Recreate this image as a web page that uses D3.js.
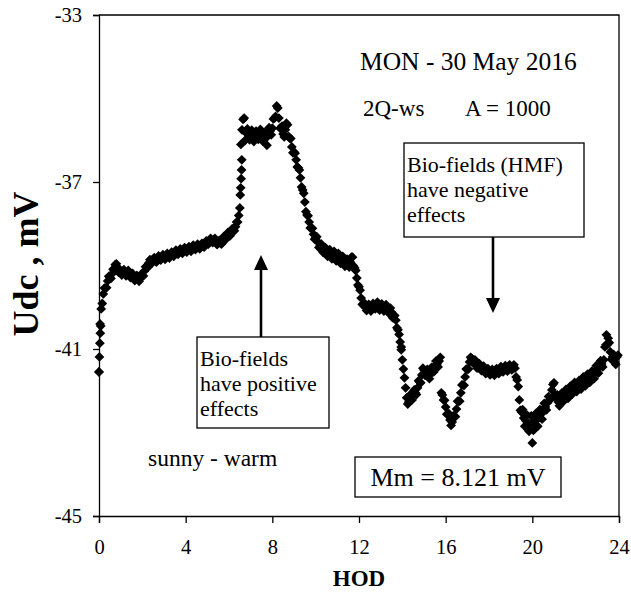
<!DOCTYPE html>
<meta charset="utf-8">
<style>
body { margin: 0; background: #fff; }
text { font-family: "Liberation Serif", "Times New Roman", serif; fill: #000; }
</style>
<svg width="631" height="596"></svg>
<script src="https://cdn.jsdelivr.net/npm/d3@7"></script>
<script>

// Udc readings (mV), one every 0.1 h from HOD 0.0 to 23.9 (middle of the band)
var hodStart = 0, hodStep = 0.1;
var udc = [
  -41.55, -40.04, -39.68, -39.54, -39.37, -39.28, -39.20, -39.11, -38.96, -39.16,
  -39.16, -39.16, -39.18, -39.18, -39.20, -39.23, -39.28, -39.30, -39.32, -39.30,
  -39.25, -39.13, -39.04, -38.94, -38.89, -38.87, -38.87, -38.84, -38.82, -38.80,
  -38.80, -38.77, -38.77, -38.75, -38.73, -38.70, -38.68, -38.66, -38.66, -38.63,
  -38.63, -38.61, -38.61, -38.58, -38.56, -38.56, -38.54, -38.54, -38.51, -38.49,
  -38.44, -38.42, -38.39, -38.39, -38.42, -38.46, -38.46, -38.39, -38.34, -38.29,
  -38.25, -38.20, -38.15, -38.07, -37.96, -37.62, -35.75, -35.47, -35.83, -35.87,
  -35.87, -35.90, -35.92, -35.87, -35.85, -35.87, -35.92, -35.95, -35.85, -35.78,
  -35.71, -35.47, -35.18, -35.47, -35.71, -35.85, -35.75, -35.63, -35.95, -36.16,
  -36.28, -36.47, -36.66, -36.90, -37.19, -37.48, -37.79, -37.96, -38.10, -38.25,
  -38.34, -38.44, -38.53, -38.58, -38.63, -38.66, -38.70, -38.73, -38.75, -38.77,
  -38.80, -38.82, -38.87, -38.89, -38.94, -38.96, -38.92, -38.80, -39.06, -39.30,
  -39.51, -39.78, -39.95, -40.00, -40.00, -40.02, -40.00, -39.97, -39.95, -39.97,
  -40.00, -40.00, -40.02, -40.02, -40.07, -40.12, -40.21, -40.31, -40.54, -40.83,
  -41.26, -41.69, -42.17, -42.27, -42.17, -42.10, -42.05, -41.93, -41.79, -41.62,
  -41.50, -41.55, -41.62, -41.60, -41.48, -41.41, -41.36, -41.29, -42.05, -42.22,
  -42.39, -42.56, -42.70, -42.75, -42.60, -42.44, -42.25, -42.05, -41.86, -41.67,
  -41.48, -41.31, -41.22, -41.29, -41.36, -41.41, -41.43, -41.46, -41.50, -41.53,
  -41.55, -41.55, -41.57, -41.55, -41.53, -41.50, -41.48, -41.48, -41.46, -41.46,
  -41.43, -41.43, -41.46, -41.74, -42.22, -42.51, -42.65, -42.72, -42.77, -42.80,
  -42.77, -42.75, -42.70, -42.63, -42.56, -42.49, -42.39, -42.29, -42.22, -41.98,
  -41.81, -42.17, -42.27, -42.20, -42.15, -42.10, -42.08, -42.03, -41.98, -41.93,
  -41.91, -41.89, -41.86, -41.81, -41.77, -41.74, -41.69, -41.67, -41.62, -41.55,
  -41.48, -41.43, -41.36, -41.26, -40.90, -40.74, -41.07, -41.19, -41.31, -41.19
];

// readings half a step later (HOD 0.05 ... 23.95), taken alternately on the upper / lower edge of the noisy band
var udcHalf = [
  -40.40, -39.91, -39.54, -39.53, -39.26, -39.31, -39.09, -38.98, -39.13, -39.09,
  -39.23, -39.10, -39.25, -39.12, -39.29, -39.19, -39.36, -39.24, -39.38, -39.21,
  -39.25, -39.03, -39.05, -38.86, -38.94, -38.81, -38.92, -38.77, -38.87, -38.74,
  -38.85, -38.71, -38.82, -38.68, -38.78, -38.63, -38.73, -38.60, -38.71, -38.57,
  -38.68, -38.55, -38.66, -38.51, -38.62, -38.49, -38.60, -38.47, -38.56, -38.41,
  -38.49, -38.35, -38.45, -38.35, -38.50, -38.40, -38.49, -38.31, -38.38, -38.21,
  -38.29, -38.12, -38.17, -37.96, -37.80, -36.10, -35.50, -36.00, -35.73, -35.99,
  -35.76, -36.03, -35.78, -35.98, -35.74, -36.02, -35.82, -36.12, -35.70, -35.87,
  -35.49, -35.43, -35.23, -35.71, -35.66, -35.92, -35.59, -35.91, -35.96, -36.30,
  -36.31, -36.64, -36.71, -37.12, -37.27, -37.71, -37.81, -38.10, -38.11, -38.37,
  -38.31, -38.57, -38.48, -38.69, -38.57, -38.78, -38.62, -38.84, -38.66, -38.89,
  -38.71, -38.95, -38.78, -39.02, -38.85, -39.04, -38.80, -39.01, -39.12, -39.47,
  -39.59, -39.93, -39.90, -40.08, -39.93, -40.09, -39.91, -40.04, -39.88, -40.07,
  -39.92, -40.09, -39.94, -40.13, -40.02, -40.25, -40.20, -40.49, -40.65, -40.95,
  -41.48, -41.93, -42.32, -42.10, -42.22, -41.98, -42.09, -41.76, -41.81, -41.46,
  -41.63, -41.49, -41.71, -41.44, -41.55, -41.29, -41.43, -41.20, -42.10, -42.23,
  -42.56, -42.55, -42.83, -42.60, -42.62, -42.25, -42.25, -41.86, -41.87, -41.48,
  -41.48, -41.20, -41.33, -41.26, -41.46, -41.35, -41.52, -41.41, -41.59, -41.47,
  -41.62, -41.49, -41.63, -41.47, -41.59, -41.42, -41.55, -41.40, -41.53, -41.38,
  -41.50, -41.38, -41.67, -41.90, -42.47, -42.45, -42.85, -42.58, -42.97, -42.60,
  -42.95, -42.55, -42.85, -42.45, -42.68, -42.30, -42.46, -42.14, -42.20, -41.85,
  -42.10, -42.10, -42.36, -42.06, -42.25, -41.97, -42.18, -41.89, -42.08, -41.80,
  -42.02, -41.76, -41.96, -41.67, -41.88, -41.60, -41.80, -41.53, -41.71, -41.40,
  -41.58, -41.28, -41.43, -40.95, -40.90, -40.85, -41.25, -41.13, -41.37, -41.15
];

// extra readings on the steep jumps (start of day, morning rise, outliers)
var jumpHod = [0.00, 0.02, 0.04, 0.06, 0.08, 6.52, 6.54, 6.56, 6.58, 6.59, 13.95, 20.0, 23.42];
var jumpUdc = [-41.55, -41.19, -40.86, -40.62, -40.45, -37.31, -37.14, -36.92, -36.71, -36.47, -41.02, -43.25, -40.66];

var xTicks = [0, 4, 8, 12, 16, 20, 24];
var yTicks = [-45, -41, -37, -33];

var notes = [
  {text: "MON - 30 May 2016", x: 360, y: 70, size: 25.5},
  {text: "2Q-ws", x: 363, y: 116, size: 23},
  {text: "A = 1000", x: 465, y: 116, size: 23},
  {text: "sunny - warm", x: 148, y: 466, size: 23.5}
];
var negLines = ["Bio-fields (HMF)", "have negative", "effects"];
var posLines = ["Bio-fields", "have positive", "effects"];

var points = udc.map(function(v, i) { return {hod: hodStart + i * hodStep, udc: v}; })
  .concat(udcHalf.map(function(v, i) { return {hod: hodStart + (i + 0.5) * hodStep, udc: v}; }))
  .concat(jumpHod.map(function(h, i) { return {hod: h, udc: jumpUdc[i]}; }));

var pLeft = 99, pRight = 619, pTop = 15, pBottom = 516;
var svg = d3.select("svg");

var x = d3.scaleLinear().domain([0, 24]).range([pLeft, pRight]);
var y = d3.scaleLinear().domain([-45, -33]).range([pBottom, pTop]);

// frame (top and right)
svg.append("path")
  .attr("d", "M" + pLeft + "," + pTop + "H" + pRight + "V" + pBottom)
  .attr("fill", "none").attr("stroke", "#000").attr("stroke-width", 1.3);

var xAxis = svg.append("g")
  .attr("transform", "translate(0," + pBottom + ")")
  .call(d3.axisBottom(x).tickValues(xTicks).tickSize(7).tickPadding(16).tickFormat(function(d) { return String(d); }));
var yAxis = svg.append("g")
  .attr("transform", "translate(" + pLeft + ",0)")
  .call(d3.axisLeft(y).tickValues(yTicks).tickSize(6).tickPadding(11).tickFormat(function(d) { return String(d); }));

[xAxis, yAxis].forEach(function(g) {
  g.select(".domain").attr("stroke-width", 1.3);
  g.selectAll(".tick line").attr("stroke-width", 1.3);
  g.selectAll(".tick text")
    .style("font-family", "'Liberation Serif', 'Times New Roman', serif")
    .style("font-size", "20.5px").attr("fill", "#000");
});
yAxis.selectAll(".tick text").attr("dy", "0.34em");

svg.append("text")
  .attr("x", 359).attr("y", 586)
  .attr("text-anchor", "middle")
  .style("font-size", "23px").style("font-weight", "bold")
  .text("HOD");

svg.append("text")
  .attr("transform", "translate(38,264) rotate(-90)")
  .attr("text-anchor", "middle")
  .style("font-size", "36px").style("font-weight", "bold")
  .text("Udc , mV");

// data: black diamonds
var diamond = d3.symbol().type(d3.symbolSquare).size(48);
svg.append("g")
  .selectAll("path")
  .data(points)
  .enter().append("path")
  .attr("d", diamond)
  .attr("fill", "#000")
  .attr("transform", function(d) {
    return "translate(" + x(d.hod) + "," + y(d.udc) + ") rotate(45)";
  });

// text notes
svg.selectAll("text.note")
  .data(notes)
  .enter().append("text")
  .attr("class", "note")
  .attr("x", function(d) { return d.x; })
  .attr("y", function(d) { return d.y; })
  .style("font-size", function(d) { return d.size + "px"; })
  .text(function(d) { return d.text; });

function box(x0, y0, w, h, lines, lineY, lineGap) {
  svg.append("rect")
    .attr("x", x0).attr("y", y0).attr("width", w).attr("height", h)
    .attr("fill", "#fff").attr("stroke", "#000").attr("stroke-width", 1.3);
  lines.forEach(function(t, i) {
    svg.append("text")
      .attr("x", x0 + 3).attr("y", lineY + i * lineGap)
      .style("font-size", "22px")
      .text(t);
  });
}

function arrow(xa, yFrom, yTip) {
  var dir = yTip < yFrom ? 1 : -1;
  svg.append("line")
    .attr("x1", xa).attr("x2", xa)
    .attr("y1", yFrom).attr("y2", yTip + dir * 12)
    .attr("stroke", "#000").attr("stroke-width", 2.6);
  svg.append("path")
    .attr("d", "M" + xa + "," + yTip + "L" + (xa - 7) + "," + (yTip + dir * 15) +
      "L" + (xa + 7) + "," + (yTip + dir * 15) + "Z")
    .attr("fill", "#000");
}

box(404, 143, 180, 94, negLines, 172, 25);
arrow(493, 237, 313);

box(197, 337, 132, 91, posLines, 366, 25);
arrow(261, 337, 255);

svg.append("rect")
  .attr("x", 355).attr("y", 457).attr("width", 206).attr("height", 40)
  .attr("fill", "#fff").attr("stroke", "#000").attr("stroke-width", 1.3);
svg.append("text")
  .attr("x", 458).attr("y", 486)
  .attr("text-anchor", "middle")
  .style("font-size", "26px")
  .text("Mm = 8.121 mV");

</script>
